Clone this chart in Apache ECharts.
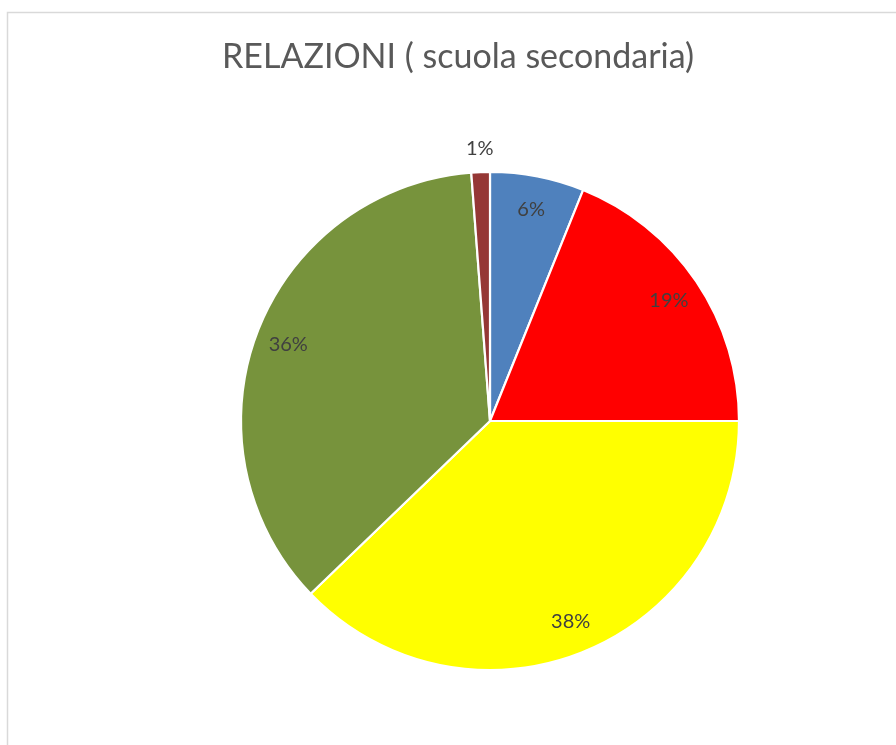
<!DOCTYPE html>
<html><head><meta charset="utf-8">
<script src="https://cdn.jsdelivr.net/npm/echarts@6/dist/echarts.min.js"></script>
<style>html,body{margin:0;padding:0;background:#fff}#c{width:896px;height:745px}</style>
</head><body><div id="c"></div>
<script>
const titleText = 'RELAZIONI ( scuola secondaria)';
const categories = ['Cat 1', 'Cat 2', 'Cat 3', 'Cat 4', 'Cat 5'];
const values = [6.1, 18.9, 37.8, 36.0, 1.2];
const colors = ['#4F81BD', '#FF0000', '#FFFF00', '#77933C', '#953735'];
const outsideLabel = [false, false, false, false, true];

const chart = echarts.init(document.getElementById('c'), null, {renderer: 'canvas'});
const R = 249;
const center = [490, 421];
const fontFam = 'Lato, "Open Sans", sans-serif';

const baseData = categories.map((n, i) => ({name: n, value: values[i], itemStyle: {color: colors[i]}}));
const innerLabelData = categories.map((n, i) => ({name: n, value: values[i], label: {show: !outsideLabel[i]}}));
const outerLabelData = categories.map((n, i) => ({name: n, value: values[i], label: {show: outsideLabel[i]}}));

chart.setOption({
  animation: false,
  title: {
    text: titleText, left: 217, top: 35,
    textStyle: {fontFamily: fontFam, fontSize: 34, fontWeight: 'normal', color: '#595959'}
  },
  graphic: [{
    type: 'rect', shape: {x: 7.5, y: 12.5, width: 1000, height: 1000},
    style: {fill: 'none', stroke: '#D9D9D9', lineWidth: 1.5}, silent: true
  }],
  series: [
    {
      type: 'pie', center: center, radius: [0, R], startAngle: 90, clockwise: true,
      silent: true, label: {show: false}, labelLine: {show: false},
      itemStyle: {borderColor: '#fff', borderWidth: 2.2},
      data: baseData
    },
    {
      type: 'pie', center: center, radius: [R * 0.71, R], startAngle: 90, clockwise: true,
      silent: true, percentPrecision: 0,
      itemStyle: {color: 'rgba(0,0,0,0)'},
      label: {position: 'inside', formatter: '{d}%', fontFamily: fontFam, fontSize: 20, color: '#404040'},
      labelLine: {show: false},
      data: innerLabelData
    },
    {
      type: 'pie', center: center, radius: [R + 8, R + 34], startAngle: 90, clockwise: true,
      silent: true, percentPrecision: 0,
      itemStyle: {color: 'rgba(0,0,0,0)'},
      label: {position: 'inside', formatter: '{d}%', fontFamily: fontFam, fontSize: 20, color: '#404040'},
      labelLine: {show: false},
      data: outerLabelData
    }
  ]
});
</script></body></html>
